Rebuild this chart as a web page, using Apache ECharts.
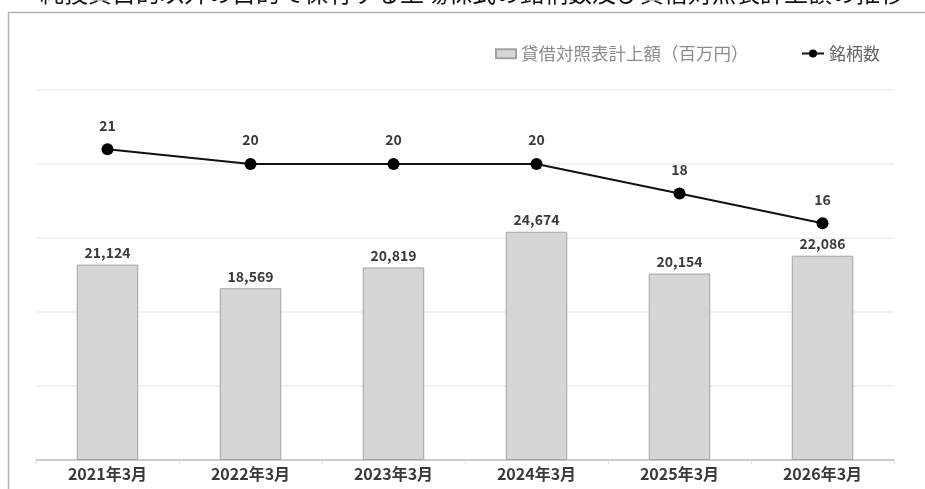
<!DOCTYPE html>
<html>
<head>
<meta charset="utf-8">
<script src="https://cdn.jsdelivr.net/npm/echarts@6/dist/echarts.min.js"></script>
<style>
  html, body { margin: 0; padding: 0; background: #fff; }
  #chart { width: 925px; height: 489px; }
</style>
</head>
<body>
<div id="chart"></div>
<script>
// 期末ごとの値
const periods = ["2021年3月", "2022年3月", "2023年3月", "2024年3月", "2025年3月", "2026年3月"];
const amounts = [21124, 18569, 20819, 24674, 20154, 22086]; // 貸借対照表計上額（百万円）
const counts = [21, 20, 20, 20, 18, 16]; // 銘柄数

const titleText = "・純投資目的以外の目的で保有する上場株式の銘柄数及び貸借対照表計上額の推移";
const barName = "貸借対照表計上額（百万円）";
const lineName = "銘柄数";

const font = "'Noto Sans CJK JP', 'Noto Sans', sans-serif";

let myChart = echarts.init(document.getElementById("chart"));

let option = {
  backgroundColor: "#fff",
  textStyle: { fontFamily: font },
  graphic: [
    {
      type: "rect",
      shape: { x: 8.5, y: 12.5, width: 930, height: 500 },
      style: { fill: "none", stroke: "#b3b3b3", lineWidth: 1.5 },
      silent: true
    },
    {
      type: "text",
      left: 16,
      top: -19,
      style: {
        text: titleText,
        fontSize: 24,
        fontFamily: font,
        fill: "#111"
      },
      silent: true
    }
  ],
  legend: [
    {
      data: [barName],
      left: 490,
      top: 40,
      icon: "rect",
      itemWidth: 20,
      itemHeight: 9,
      textStyle: { color: "#8c8c8c", fontSize: 17.5, fontFamily: font }
    },
    {
      data: [lineName],
      left: 796,
      top: 40,
      itemWidth: 22,
      itemHeight: 10,
      textStyle: { color: "#666", fontSize: 17, fontFamily: font }
    }
  ],
  grid: {
    left: 36,
    right: 31,
    top: 90,
    bottom: 29
  },
  xAxis: {
    type: "category",
    data: periods,
    axisLine: { lineStyle: { color: "#bfbfbf", width: 1.5 } },
    axisTick: { show: true, length: 4, lineStyle: { color: "#e0e0e0" } },
    axisLabel: {
      color: "#3a3a3a",
      fontSize: 16,
      fontWeight: "bold",
      margin: 6,
      fontFamily: font
    }
  },
  yAxis: [
    {
      type: "value",
      min: 0,
      max: 40000,
      interval: 8000,
      axisLabel: { show: false },
      axisLine: { show: false },
      axisTick: { show: false },
      splitLine: { lineStyle: { color: "#eeeeee", width: 1.5 } }
    },
    {
      type: "value",
      min: 0,
      max: 25,
      interval: 5,
      axisLabel: { show: false },
      axisLine: { show: false },
      axisTick: { show: false },
      splitLine: { show: false }
    }
  ],
  series: [
    {
      name: barName,
      type: "bar",
      data: amounts,
      barWidth: "43%",
      itemStyle: {
        color: "#d6d6d6",
        borderColor: "#a3a3a3",
        borderWidth: 1
      },
      label: {
        show: true,
        position: "top",
        distance: 5,
        color: "#3a3a3a",
        fontSize: 14,
        fontWeight: "bold",
        fontFamily: font,
        formatter: p => p.value.toLocaleString("en-US")
      },
      z: 1
    },
    {
      name: lineName,
      type: "line",
      yAxisIndex: 1,
      data: counts,
      symbol: "circle",
      symbolSize: 12,
      lineStyle: { color: "#111", width: 2 },
      itemStyle: { color: "#000" },
      label: {
        show: true,
        position: "top",
        distance: 11,
        color: "#3a3a3a",
        fontSize: 14,
        fontWeight: "bold",
        fontFamily: font
      },
      z: 3
    }
  ]
};

myChart.setOption(option);
</script>
</body>
</html>
